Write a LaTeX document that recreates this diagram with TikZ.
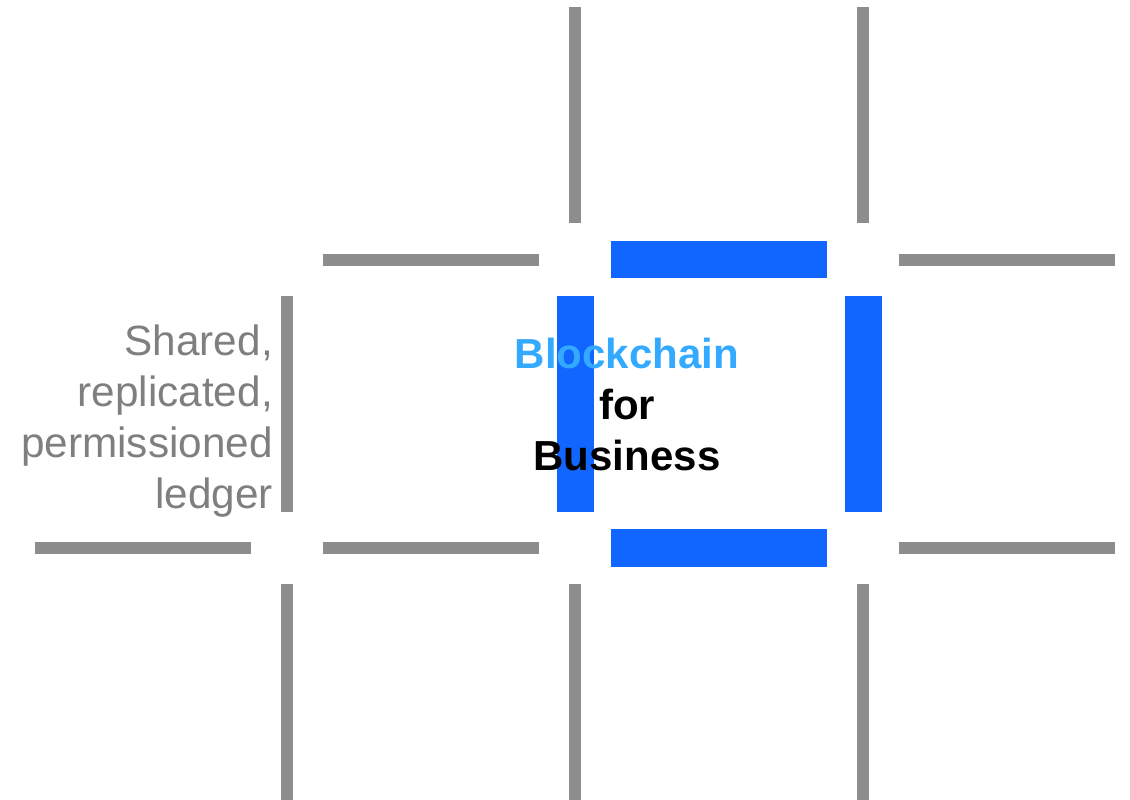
\documentclass[tikz,border=0pt]{standalone}
\usepackage{fontspec}
\setmainfont{Liberation Sans}
\definecolor{bargray}{HTML}{8D8D8D}
\definecolor{txtgray}{HTML}{7F7F7F}
\definecolor{barblue}{HTML}{1166FF}
\definecolor{txtblue}{HTML}{33AAFF}
\begin{document}
\begin{tikzpicture}[x=1pt,y=-1pt,
  graybar/.style={fill=bargray,draw=none},
  bluebar/.style={fill=barblue,draw=none},
  sidetxt/.style={anchor=base east,inner sep=0pt,text=txtgray,font=\fontsize{42.3}{51}\selectfont},
  maintxt/.style={anchor=base,inner sep=0pt,font=\fontsize{42}{51}\selectfont\bfseries}]
\useasboundingbox (0,0) rectangle (1130,800);
% gray vertical bars
\fill[graybar] (569,7) rectangle (581,223);
\fill[graybar] (857,7) rectangle (869,223);
\fill[graybar] (281,296) rectangle (293,512);
\fill[graybar] (281,584) rectangle (293,800);
\fill[graybar] (569,584) rectangle (581,800);
\fill[graybar] (857,584) rectangle (869,800);
% gray horizontal bars
\fill[graybar] (323,254) rectangle (539,266);
\fill[graybar] (899,254) rectangle (1115,266);
\fill[graybar] (35,542) rectangle (251,554);
\fill[graybar] (323,542) rectangle (539,554);
\fill[graybar] (899,542) rectangle (1115,554);
% blue bars
\fill[bluebar] (611,241) rectangle (827,278);
\fill[bluebar] (611,529) rectangle (827,567);
\fill[bluebar] (557,296) rectangle (594,512);
\fill[bluebar] (845,296) rectangle (882,512);
% centre text
\node[maintxt,text=txtblue] (t1) at (627,368) {Blockchain};
\node[maintxt,text=black] (t2) at (627,419) {for};
\node[maintxt,text=black] (t3) at (627,470) {Business};
% side text
\node[sidetxt] (s1) at (273,355) {Shared,};
\node[sidetxt] (s2) at (273,406) {replicated,};
\node[sidetxt] (s3) at (273,457) {permissioned};
\node[sidetxt] (s4) at (273,508) {ledger};
\end{tikzpicture}
\end{document}
